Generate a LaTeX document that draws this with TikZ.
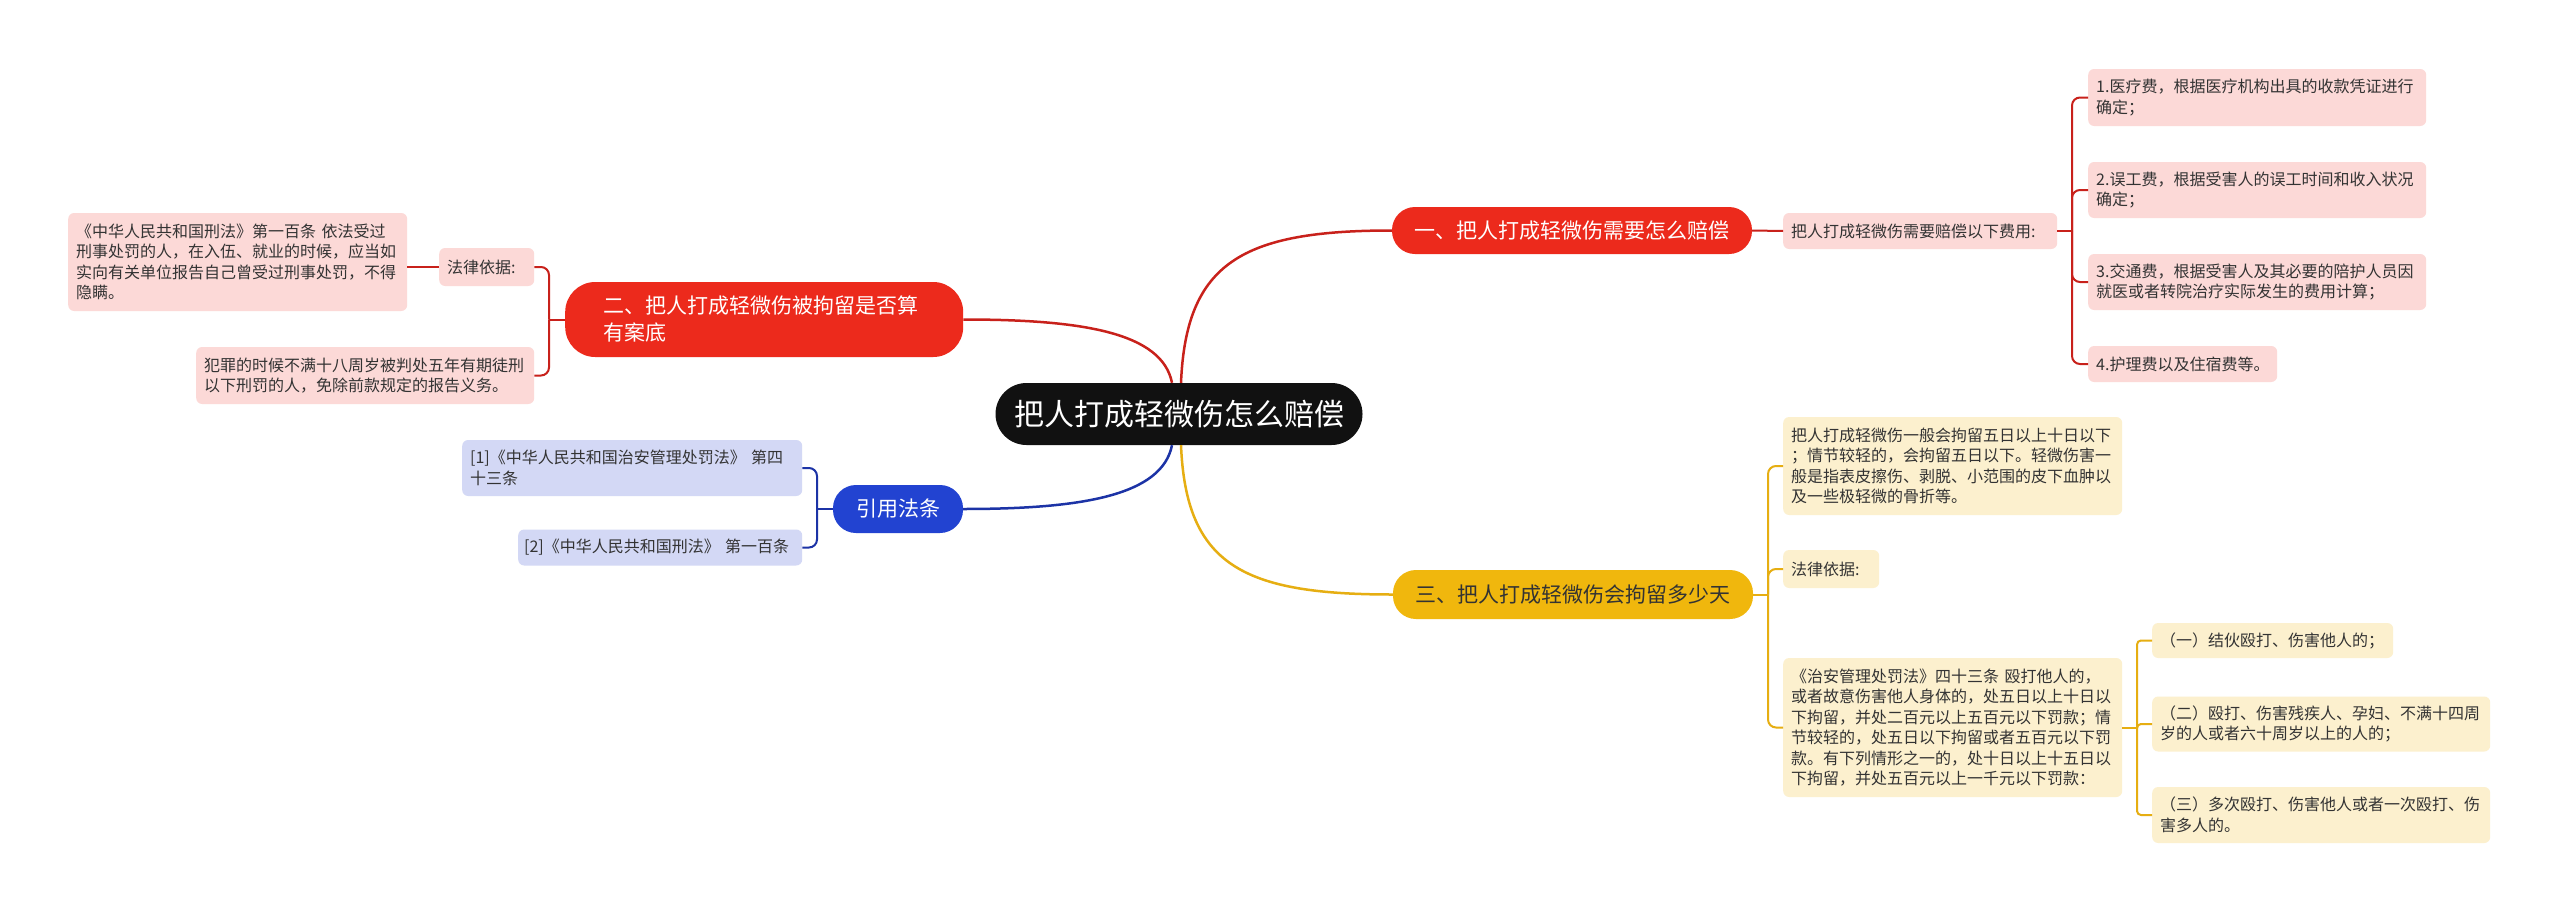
\documentclass[tikz,border=0pt]{standalone}
\usepackage{fontspec}
\newfontfamily\cjk{Noto Sans CJK SC}
\usepackage{tikz}

\definecolor{rootfill}{HTML}{111111}
\definecolor{redfill}{HTML}{EC2A1C}
\definecolor{redleaf}{HTML}{FCD9D7}
\definecolor{rededge}{HTML}{C8211B}
\definecolor{bluefill}{HTML}{2243D1}
\definecolor{blueleaf}{HTML}{D3D8F5}
\definecolor{blueedge}{HTML}{1C33A6}
\definecolor{yelfill}{HTML}{F0B70D}
\definecolor{yelleaf}{HTML}{FCF0CE}
\definecolor{yeledge}{HTML}{E6AE12}
\definecolor{ink}{HTML}{333333}

\begin{document}
\begin{tikzpicture}
      [x=1pt,y=-1pt
      ,rootbox/.style={fill=rootfill,text=white,rounded corners=31,minimum width=367,minimum height=62,font={\cjk\fontsize{30}{36}\selectfont}}
      ,branchbox/.style={text=white,rounded corners=23,minimum height=47,font={\cjk\fontsize{21}{27}\selectfont}}
      ,leaf/.style={text=ink,rounded corners=6,inner xsep=8,inner ysep=0,align=left,anchor=west,font={\cjk\fontsize{16}{20.5}\selectfont}}
      ,redline/.style={draw=rededge,line width=2}
      ,blueline/.style={draw=blueedge,line width=2}
      ,yelline/.style={draw=yeledge,line width=2}
      ]
        \useasboundingbox[fill=white] (0,0) rectangle (2560,913);
        % root and main branches
        \node[rootbox] (root) at (1179,414) {把人打成轻微伤怎么赔偿};
        \node[branchbox,fill=redfill,minimum width=360] (b1) at (1572,230.5) {一、把人打成轻微伤需要怎么赔偿};
        \node[branchbox,fill=redfill,anchor=west,rounded corners=30,minimum height=75,inner xsep=38,text width=322,align=left] (b2) at (565,319.5) {二、把人打成轻微伤被拘留是否算\\有案底};
        \node[branchbox,fill=bluefill,minimum width=130,minimum height=48] (b3) at (898,509) {引用法条};
        \node[branchbox,fill=yelfill,text=ink,minimum width=360,minimum height=49] (b4) at (1573,594.5) {三、把人打成轻微伤会拘留多少天};

        \draw[redline,line width=2.5] ([xshift=2]root.north) .. controls +(5,-120) and +(-150,0) .. (b1.west);
        \draw[redline,line width=2.5] ([xshift=-7]root.north) .. controls +(-10,-50) and +(120,0) .. (b2.east);
        \draw[blueline,line width=2.5] ([xshift=-7]root.south) .. controls +(-10,50) and +(120,0) .. (b3.east);
        \draw[yelline,line width=2.5] ([xshift=2]root.south) .. controls +(5,120) and +(-150,0) .. (b4.west);

        % branch one
        \node[leaf,fill=redleaf,text width=258,minimum height=36] (c1) at (1783,231) {把人打成轻微伤需要赔偿以下费用:};
        \node[leaf,fill=redleaf,text width=322,minimum height=57] (l1) at (2088,97.5) {1.医疗费，根据医疗机构出具的收款凭证进行\\确定；};
        \node[leaf,fill=redleaf,text width=322,minimum height=56] (l2) at (2088,190) {2.误工费，根据受害人的误工时间和收入状况\\确定；};
        \node[leaf,fill=redleaf,text width=322,minimum height=56] (l3) at (2088,282) {3.交通费，根据受害人及其必要的陪护人员因\\就医或者转院治疗实际发生的费用计算；};
        \node[leaf,fill=redleaf,text width=173,minimum height=36] (l4) at (2088,364) {4.护理费以及住宿费等。};
        \coordinate (j1) at (2072,231);
        \draw[redline] (b1.east) -- (c1.west);
        \draw[redline] (c1.east) -- (j1);
        \foreach \n in {l1,l2,l3,l4}
          \draw[redline,rounded corners=8] (j1) |- (\n.west);

        % branch two
        \node[leaf,fill=redleaf,text width=79,minimum height=38] (law2) at (439,267) {法律依据:};
        \node[leaf,fill=redleaf,text width=323,minimum height=98] (big2) at (68,262) {《中华人民共和国刑法》第一百条 依法受过\\刑事处罚的人，在入伍、就业的时候，应当如\\实向有关单位报告自己曾受过刑事处罚，不得\\隐瞒。};
        \node[leaf,fill=redleaf,text width=322,minimum height=57] (crime2) at (196,375.5) {犯罪的时候不满十八周岁被判处五年有期徒刑\\以下刑罚的人，免除前款规定的报告义务。};
        \coordinate (j2) at (549,319.5);
        \draw[redline] (b2.west) -- (j2);
        \foreach \n in {law2,crime2}
          \draw[redline,rounded corners=8] (j2) |- (\n.east);
        \draw[redline] (law2.west) -- (law2.west -| big2.east);

        % branch three
        \node[leaf,fill=blueleaf,text width=324,minimum height=56] (ref1) at (462,468) {[1]《中华人民共和国治安管理处罚法》 第四\\十三条};
        \node[leaf,fill=blueleaf,inner xsep=6,text width=272,minimum height=36] (ref2) at (518,547.5) {\mbox{[2]《中华人民共和国刑法》 第一百条}};
        \coordinate (j3) at (817,509);
        \draw[blueline] (b3.west) -- (j3);
        \foreach \n in {ref1,ref2}
          \draw[blueline,rounded corners=8] (j3) |- (\n.east);

        % branch four
        \node[leaf,fill=yelleaf,text width=323,minimum height=98] (y1) at (1783,466) {把人打成轻微伤一般会拘留五日以上十日以下\\；情节较轻的，会拘留五日以下。轻微伤害一\\般是指表皮擦伤、剥脱、小范围的皮下血肿以\\及一些极轻微的骨折等。};
        \node[leaf,fill=yelleaf,text width=80,minimum height=38] (law4) at (1783,569) {法律依据:};
        \node[leaf,fill=yelleaf,text width=323,minimum height=139] (y3) at (1783,727.5) {《治安管理处罚法》四十三条 殴打他人的，\\或者故意伤害他人身体的，处五日以上十日以\\下拘留，并处二百元以上五百元以下罚款；情\\节较轻的，处五日以下拘留或者五百元以下罚\\款。有下列情形之一的，处十日以上十五日以\\下拘留，并处五百元以上一千元以下罚款：};
        \coordinate (j4) at (1768,594.5);
        \draw[yelline] (b4.east) -- (j4);
        \foreach \n in {y1,law4,y3}
          \draw[yelline,rounded corners=8] (j4) |- (\n.west);

        \node[leaf,fill=yelleaf,text width=225,minimum height=35] (s1) at (2152,640.5) {（一）结伙殴打、伤害他人的；};
        \node[leaf,fill=yelleaf,text width=322,minimum height=55] (s2) at (2152,724) {（二）殴打、伤害残疾人、孕妇、不满十四周\\岁的人或者六十周岁以上的人的；};
        \node[leaf,fill=yelleaf,text width=322,minimum height=56] (s3) at (2152,815) {（三）多次殴打、伤害他人或者一次殴打、伤\\害多人的。};
        \coordinate (j5) at (2137,727.5);
        \draw[yelline] (y3.east) -- (j5);
        \foreach \n in {s1,s2,s3}
          \draw[yelline,rounded corners=4] (j5) |- (\n.west);
      \end{tikzpicture}
\end{document}
